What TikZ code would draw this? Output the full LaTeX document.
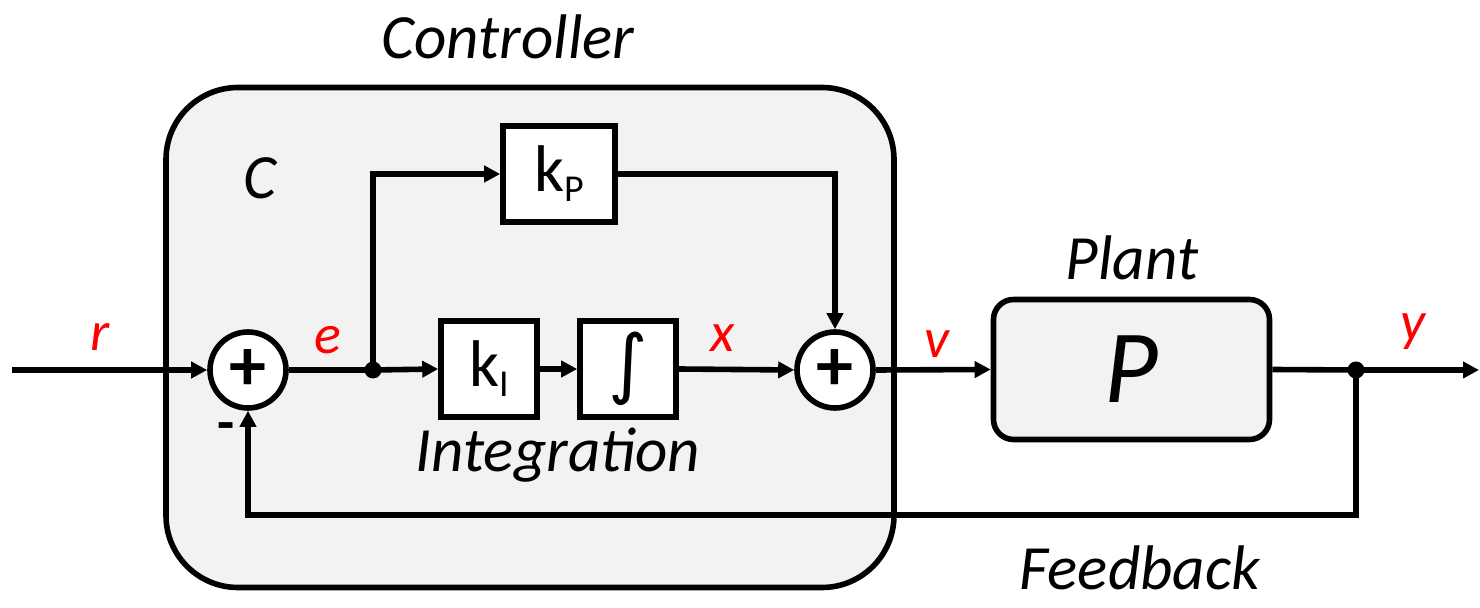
\documentclass[tikz,border=0pt]{standalone}
\usepackage{fontspec}
\setmainfont{Carlito}
\newfontfamily\djv{DejaVu Sans}
\usetikzlibrary{arrows.meta}
\definecolor{boxgray}{HTML}{F2F2F2}
\definecolor{sigred}{HTML}{FF0000}
\tikzset{
  wire/.style={line width=2.8pt},
  arr/.style={wire,-{Triangle[length=8pt,width=8pt]}},
  sumc/.style={circle,draw,line width=2.8pt,fill=white,minimum size=38pt,inner sep=0pt,font=\fontsize{37}{37}\selectfont\bfseries},
  blk/.style={draw,line width=2.8pt,fill=white,minimum width=48pt,minimum height=48pt,inner sep=0pt},
  dotc/.style={circle,fill=black,minimum size=8.5pt,inner sep=0pt},
  sig/.style={text=sigred,font=\fontsize{28}{28}\selectfont\itshape},
  lbl/.style={font=\fontsize{31.5}{31.5}\selectfont\itshape},
}
\begin{document}
\begin{tikzpicture}[x=0.5pt,y=-0.5pt]
\useasboundingbox (0,0) rectangle (1480,608);
% controller box
\node[draw,line width=2.8pt,fill=boxgray,rounded corners=36pt,minimum width=364pt,minimum height=250pt] (ctrl) at (530,337.5) {};
% plant box
\node[draw,line width=2.8pt,fill=boxgray,rounded corners=10pt,minimum width=138pt,minimum height=70pt,font=\fontsize{52}{52}\selectfont\itshape] (P) at (1131.5,369.5) {P};
% blocks
\node[sumc] (s1) at (248,370) {+};
\node[sumc] (s2) at (835,370) {+};
\node[blk] (ki) at (489,369) {{\fontsize{33}{33}\selectfont k}\raisebox{-5pt}{\fontsize{19}{19}\selectfont I}};
\node[blk] (int) at (628,369) {\djv\fontsize{38}{38}\selectfont ∫};
\node[blk,minimum width=56pt] (kp) at (559,174) {{\fontsize{33}{33}\selectfont k}\raisebox{-5pt}{\fontsize{19}{19}\selectfont P}};
\node[dotc] (j1) at (373,370) {};
\node[dotc] (j2) at (1356,370) {};
\coordinate (in) at (12,370);
\coordinate (out) at (1479,370);
% connectors
\draw[arr] (in) -- (s1.west);
\draw[wire] (s1.east) -- (j1.center);
\draw[arr] (j1.center) -- (ki.west);
\draw[arr] (ki.east) -- (int.west);
\draw[arr] (int.east) -- (s2.west);
\draw[arr] (s2.east) -- (P.west);
\draw[wire] (P.east) -- (j2.center);
\draw[arr] (j2.center) -- (out);
\draw[arr] (j1.center) |- (kp.west);
\draw[arr] (kp.east) -| (s2.north);
\draw[arr] (j2.center) -- ++(0,145) -| (s1.south);
% labels
\node[lbl] (lctrl) at (508,37) {Controller};
\node[lbl] (lc) at (260,178) {C};
\node[lbl] (lint) at (558,455) {Integration};
\node[lbl] (lplant) at (1132,258) {Plant};
\node[lbl,inner sep=0pt,anchor=base] (lfb) at (1140,590) {Feedback};
\node[font=\fontsize{28}{28}\selectfont\bfseries] (minus) at (226,432) {-};
\node[sig] (lr) at (100,337) {r};
\node[sig] (le) at (328,340) {e};
\node[sig] (lx) at (723,338) {x};
\node[sig] (lv) at (937,344) {v};
\node[sig] (ly) at (1413,332) {y};
\end{tikzpicture}
\end{document}
